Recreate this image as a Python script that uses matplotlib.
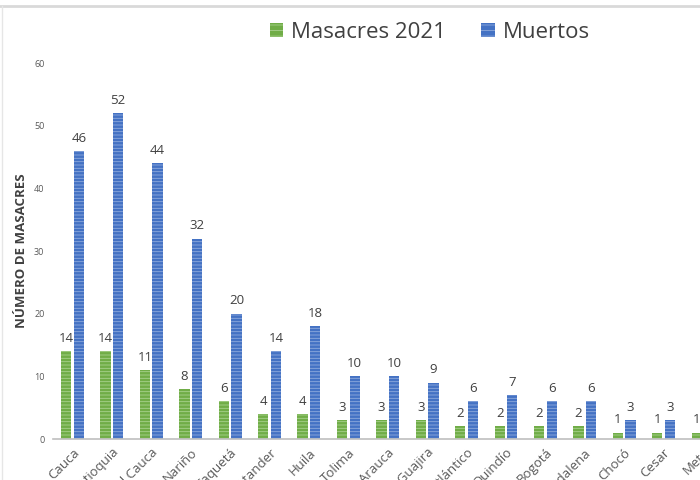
import numpy as np
import matplotlib
matplotlib.use("Agg")
import matplotlib.pyplot as plt
from matplotlib.lines import Line2D

departamentos = ["Cauca", "Antioquia", "Valle del Cauca", "Nariño", "Caquetá",
                 "Santander", "Huila", "Tolima", "Arauca", "La Guajira",
                 "Atlántico", "Quindío", "Bogotá", "Magdalena", "Chocó",
                 "Cesar", "Meta"]
masacres = [14, 14, 11, 8, 6, 4, 4, 3, 3, 3, 2, 2, 2, 2, 1, 1, 1]
muertos = [46, 52, 44, 32, 20, 14, 18, 10, 10, 9, 6, 7, 6, 6, 3, 3, 3]

plt.rcParams['font.family'] = ['Open Sans', 'DejaVu Sans']
plt.rcParams['hatch.linewidth'] = 0.6

verde = "#70ad47"
azul = "#4472c4"

fig = plt.figure(figsize=(7, 4.8), dpi=100)
ax = fig.add_axes([0.0754, 0.0854, 0.957, 0.783])

x = np.arange(len(departamentos))
w = 0.26
b1 = ax.bar(x - 0.16, masacres, w, color=verde, edgecolor="#a9d18e",
            linewidth=0, hatch="-----")
b2 = ax.bar(x + 0.16, muertos, w, color=azul, edgecolor="#8faadc",
            linewidth=0, hatch="-----")

for rect, v in zip(b1, masacres):
    ax.text(rect.get_x() + rect.get_width() / 2, v + 1, str(v),
            ha="center", va="bottom", fontsize=9.5, color="#404040")
for rect, v in zip(b2, muertos):
    ax.text(rect.get_x() + rect.get_width() / 2, v + 1, str(v),
            ha="center", va="bottom", fontsize=9.5, color="#404040")

ax.set_xlim(-0.5, 16.5)
ax.set_ylim(0, 60)
ax.set_yticks(range(0, 61, 10))
ax.tick_params(axis="y", length=0, labelsize=6.5, labelcolor="#595959", pad=6)
ax.tick_params(axis="x", length=0, pad=5)
ax.set_xticks(x)
ax.set_xticklabels(departamentos, rotation=45, ha="right", rotation_mode="anchor",
                   fontsize=9.5, color="#595959")
for s in ["top", "right", "left"]:
    ax.spines[s].set_visible(False)
ax.spines["bottom"].set_color("#bfbfbf")
ax.spines["bottom"].set_linewidth(1.2)

ax.set_ylabel("NÚMERO DE MASACRES", fontsize=9.5, fontweight="bold",
              color="#404040", labelpad=4)

handles = [plt.Rectangle((0, 0), 1, 1, facecolor=verde, edgecolor="#a9d18e",
                         hatch="---", linewidth=0),
           plt.Rectangle((0, 0), 1, 1, facecolor=azul, edgecolor="#8faadc",
                         hatch="---", linewidth=0)]
fig.legend(handles, ["Masacres 2021", "Muertos"], loc="center",
           bbox_to_anchor=(0.614, 0.933), ncol=2, frameon=False,
           fontsize=16, handlelength=0.6, handleheight=0.6,
           handletextpad=0.35, columnspacing=1.6, labelcolor="#404040")

# marco superior del recorte
fig.add_artist(Line2D([0, 1], [0.988, 0.988], color="#d9d9d9", linewidth=2))
fig.add_artist(Line2D([0.003, 0.003], [0, 0.988], color="#e6e6e6", linewidth=1))

fig.savefig("out.png", dpi=100)
